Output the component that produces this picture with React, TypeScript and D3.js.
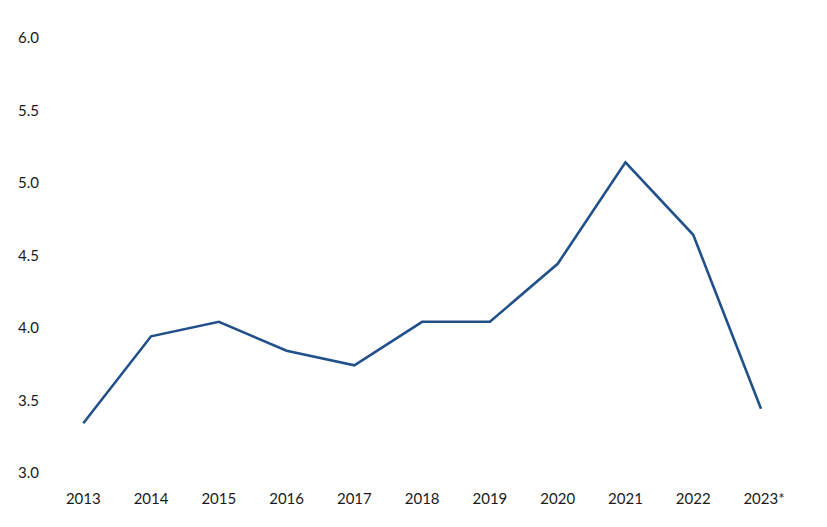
import React from "react";
import * as d3 from "d3";

const years: string[] = ["2013", "2014", "2015", "2016", "2017", "2018", "2019", "2020", "2021", "2022", "2023*"];
const values: number[] = [3.3, 3.9, 4.0, 3.8, 3.7, 4.0, 4.0, 4.4, 5.1, 4.6, 3.4];
const yTicks: number[] = [3.0, 3.5, 4.0, 4.5, 5.0, 5.5, 6.0];

const W = 827;
const H = 527;

export default function App() {
  const x = d3.scalePoint<string>().domain(years).range([83.3, 761]);
  const y = d3.scaleLinear().domain([3, 6]).range([466.8, 31.8]);
  const line = d3
    .line<number>()
    .x((_, i) => x(years[i]) as number)
    .y((d) => y(d));
  const font = "Lato, 'Open Sans', sans-serif";
  return (
    <div style={{ position: "absolute", left: 0, top: 0 }}>
      <svg width={W} height={H} style={{ display: "block", background: "#fff" }}>
        {yTicks.map((t) => (
          <text
            key={t}
            x={18}
            y={y(t) + 11.5}
            fontFamily={font}
            fontSize={15}
            fill="#1a1a1a"
            textAnchor="start"
          >
            {t.toFixed(1)}
          </text>
        ))}
        {years.map((yr) => (
          <text
            key={yr}
            x={(x(yr) as number) + (yr.endsWith("*") ? 3 : 0)}
            y={503.5}
            fontFamily={font}
            fontSize={15}
            fill="#1a1a1a"
            textAnchor="middle"
          >
            {yr}
          </text>
        ))}
        <path
          d={line(values) || ""}
          fill="none"
          stroke="#22508a"
          strokeWidth={2.6}
          strokeLinejoin="miter"
        />
      </svg>
    </div>
  );
}
